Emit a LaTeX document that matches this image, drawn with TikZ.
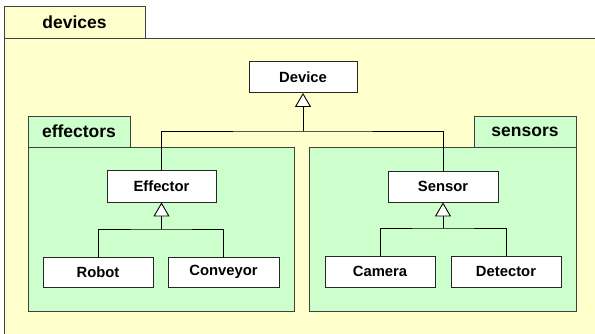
\documentclass[tikz,border=0pt]{standalone}
\usepackage{fontspec}
\setmainfont{Liberation Sans}
\usetikzlibrary{arrows.meta}
\definecolor{pkgyellow}{HTML}{FFFFCC}
\definecolor{pkggreen}{HTML}{CCFFCC}
\definecolor{pkgline}{HTML}{404040}
\tikzset{
  pkg/.style={draw=pkgline, line width=0.9pt},
  tablabel/.style={font=\fontsize{17.5}{20}\selectfont\bfseries, inner sep=0pt},
  cls/.style={draw=black!85, fill=white, line width=0.9pt, inner sep=0pt,
    minimum height=31pt, minimum width=110pt,
    font=\fontsize{14.8}{17}\selectfont\bfseries},
  link/.style={draw=black, line width=0.9pt},
  gen/.style={link, -{Triangle[length=14pt, width=16pt, fill=white]}},
}
\begin{document}
\begin{tikzpicture}[x=1pt, y=-1pt]
  \clip (0,0) rectangle (595,333);
  \fill[white] (0,0) rectangle (595,333);

  % package: devices
  \filldraw[pkg, fill=pkgyellow] (4,6) rectangle (145,38);
  \filldraw[pkg, fill=pkgyellow] (4,38) rectangle (620,350);
  \node[tablabel] (devlabel) at (74.5,22) {devices};

  % package: effectors
  \filldraw[pkg, fill=pkggreen] (28,116) rectangle (130,147);
  \filldraw[pkg, fill=pkggreen] (28,147) rectangle (294,311);
  \node[tablabel] (efflabel) at (79,131.5) {effectors};

  % package: sensors
  \filldraw[pkg, fill=pkggreen] (474,116) rectangle (576,147);
  \filldraw[pkg, fill=pkggreen] (309,147) rectangle (576,311);
  \node[tablabel] (senlabel) at (525,131.5) {sensors};

  % classes
  \node[cls, minimum width=108pt] (device) at (303,77) {Device};
  \node[cls, minimum width=109pt, minimum height=32pt] (effector) at (161.5,186) {Effector};
  \node[cls, minimum height=30pt] (robot) at (98,272) {Robot};
  \node[cls, minimum width=111pt, minimum height=30pt] (conveyor) at (223.5,272) {Conveyor};
  \node[cls] (sensor) at (443,186.5) {Sensor};
  \node[cls] (camera) at (380,271.5) {Camera};
  \node[cls] (detector) at (506,271.5) {Detector};

  % junction points of the generalisation trees
  \coordinate (jd) at (303,131);
  \coordinate (je) at (161.5,229);
  \coordinate (js) at (443,228);

  % generalisations
  \draw[link] (effector.north) |- (jd) -| (sensor.north);
  \draw[gen] (jd) -- (device.south);

  \draw[link] (robot.north) |- (je) -| (conveyor.north);
  \draw[gen] (je) -- (effector.south);

  \draw[link] (camera.north) |- (js) -| (detector.north);
  \draw[gen] (js) -- (sensor.south);
\end{tikzpicture}
\end{document}
